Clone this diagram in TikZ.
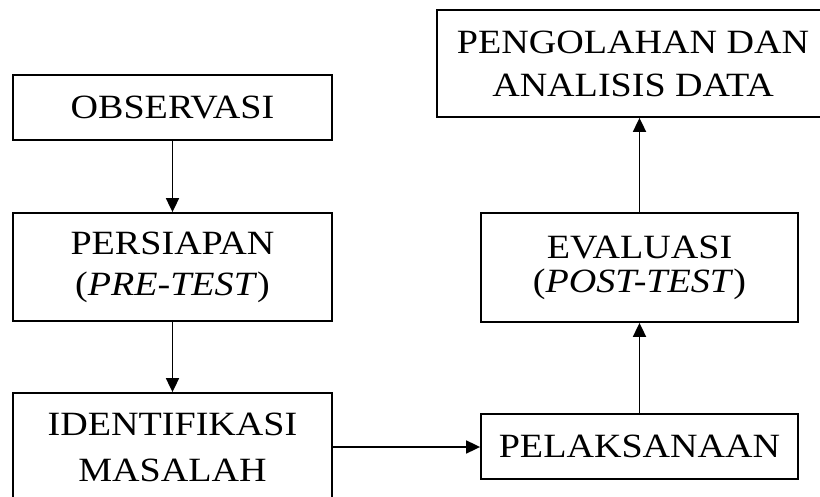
\documentclass[tikz,border=0pt]{standalone}
\usepackage{fontspec}
\setmainfont{Liberation Serif}[FakeStretch=1.12]
\usetikzlibrary{arrows.meta}

\begin{document}
\begin{tikzpicture}[x=1pt, y=-1pt,
    % Node styles
    stepbox/.style={rectangle, draw=black, line width=1.8pt, minimum width=319pt, align=center, inner sep=0pt, font=\fontsize{34}{41}\selectfont},
    myarrow/.style={-{Triangle[length=14pt, width=13pt]}, line width=1.8pt, black}
]

% Picture frame (boxes run past the right and bottom edges)
\useasboundingbox (0,0) rectangle (820,497);
\clip (0,0) rectangle (820,497);
\fill[white] (0,0) rectangle (820,497);

% === LEFT COLUMN ===
\node[stepbox, minimum height=65pt] (obs) at (172.5, 107.5) {OBSERVASI};
\node[stepbox, minimum height=108pt] (pers) at (172.5, 267) {PERSIAPAN\\(\textit{PRE-TEST})};
\node[stepbox, minimum height=108pt] (iden) at (172.5, 447) {IDENTIFIKASI\\[5pt]MASALAH};

% === RIGHT COLUMN ===
\node[stepbox, minimum width=317pt, minimum height=65pt] (pel) at (639.5, 446.5) {PELAKSANAAN};
\node[stepbox, minimum width=317pt, minimum height=109pt] (eval) at (639.5, 267.5) {EVALUASI\\[-7pt](\textit{POST-TEST})};
\node[stepbox, minimum width=392pt, minimum height=107pt] (peng) at (633, 63.5) {PENGOLAHAN DAN\\[2pt]ANALISIS DATA};

% Arrows
\draw[myarrow] (obs.south) -- (pers.north);
\draw[myarrow] (pers.south) -- (iden.north);
\draw[myarrow] (iden.east) -- (iden.east -| pel.west);
\draw[myarrow] (pel.north) -- (eval.south);
\draw[myarrow] (eval.north) -- (eval.north |- peng.south);

\end{tikzpicture}
\end{document}
